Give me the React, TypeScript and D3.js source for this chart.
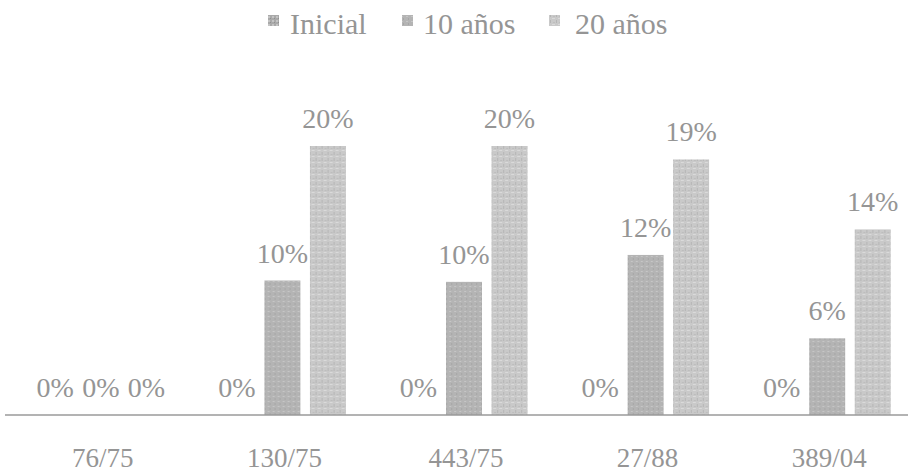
import React from "react";
import * as d3 from "d3";

const categories = ["76/75", "130/75", "443/75", "27/88", "389/04"];
const seriesNames = ["Inicial", "10 años", "20 años"];
const inicial = [0, 0, 0, 0, 0];
const diezAnos = [0, 0.1, 0.099, 0.119, 0.057];
const veinteAnos = [0, 0.2, 0.2, 0.19, 0.138];
const seriesValues = [inicial, diezAnos, veinteAnos];

const W = 908;
const H = 475;
const baseY = 415;
const fills = ["url(#pInicial)", "url(#pDiez)", "url(#pVeinte)"];
const textColor = "#959595";
const font = "'Liberation Serif', 'DejaVu Serif', serif";

export default function App() {
  const x0 = d3.scaleBand<string>().domain(categories).range([10, 918]);
  const x1 = d3
    .scaleBand<string>()
    .domain(seriesNames)
    .range([0, x0.bandwidth()])
    .paddingInner(0.21)
    .paddingOuter(0.6);
  const y = d3.scaleLinear().domain([0, 0.25]).range([baseY, 78.75]);
  const fmt = d3.format(".0%");

  const legendItems = [
    { sq: 268, tx: 290 },
    { sq: 402, tx: 423 },
    { sq: 549, tx: 575 },
  ];

  return (
    <svg
      width={W}
      height={H}
      style={{ position: "absolute", left: 0, top: 0, background: "#fff" }}
    >
      <defs>
        <pattern id="pInicial" width="4" height="4" patternUnits="userSpaceOnUse">
          <rect width="4" height="4" fill="#a9a9a9" />
          <rect x="0" y="0" width="2" height="2" fill="#c4c4c4" />
          <rect x="2" y="2" width="1" height="1" fill="#8f8f8f" />
        </pattern>
        <pattern id="pDiez" width="5" height="5" patternUnits="userSpaceOnUse">
          <rect width="5" height="5" fill="#b4b4b4" />
          <rect x="1" y="1" width="2" height="1" fill="#c6c6c6" />
          <rect x="3" y="3" width="1" height="2" fill="#a6a6a6" />
        </pattern>
        <pattern id="pVeinte" width="6" height="6" patternUnits="userSpaceOnUse">
          <rect width="6" height="6" fill="#c9c9c9" />
          <rect x="0" y="0" width="3" height="1" fill="#dadada" />
          <rect x="4" y="2" width="1" height="3" fill="#b5b5b5" />
          <rect x="1" y="4" width="2" height="1" fill="#bdbdbd" />
        </pattern>
      </defs>

      {seriesNames.map((s, i) => (
        <g key={s}>
          <rect
            x={legendItems[i].sq}
            y={15}
            width={11}
            height={11}
            fill={fills[i]}
          />
          <text
            x={legendItems[i].tx}
            y={34}
            fontFamily={font}
            fontSize={30}
            fill={textColor}
          >
            {s}
          </text>
        </g>
      ))}

      {categories.map((c, ci) => (
        <g key={c} transform={`translate(${x0(c)},0)`}>
          {seriesNames.map((s, si) => {
            const v = seriesValues[si][ci];
            const bx = x1(s) as number;
            const top = y(v);
            return (
              <g key={s}>
                {v > 0 && (
                  <rect
                    x={bx}
                    y={top}
                    width={x1.bandwidth()}
                    height={baseY - top}
                    fill={fills[si]}
                  />
                )}
                <text
                  x={bx + x1.bandwidth() / 2}
                  y={top - 18}
                  textAnchor="middle"
                  fontFamily={font}
                  fontSize={28}
                  fill={textColor}
                >
                  {fmt(v)}
                </text>
              </g>
            );
          })}
        </g>
      ))}

      <line
        x1={5}
        x2={W}
        y1={baseY}
        y2={baseY}
        stroke="#9a9a9a"
        strokeWidth={1.5}
      />

      {categories.map((c) => (
        <text
          key={c}
          x={(x0(c) as number) + x0.bandwidth() / 2 + 2}
          y={467}
          textAnchor="middle"
          fontFamily={font}
          fontSize={27}
          fill={textColor}
        >
          {c}
        </text>
      ))}
    </svg>
  );
}
